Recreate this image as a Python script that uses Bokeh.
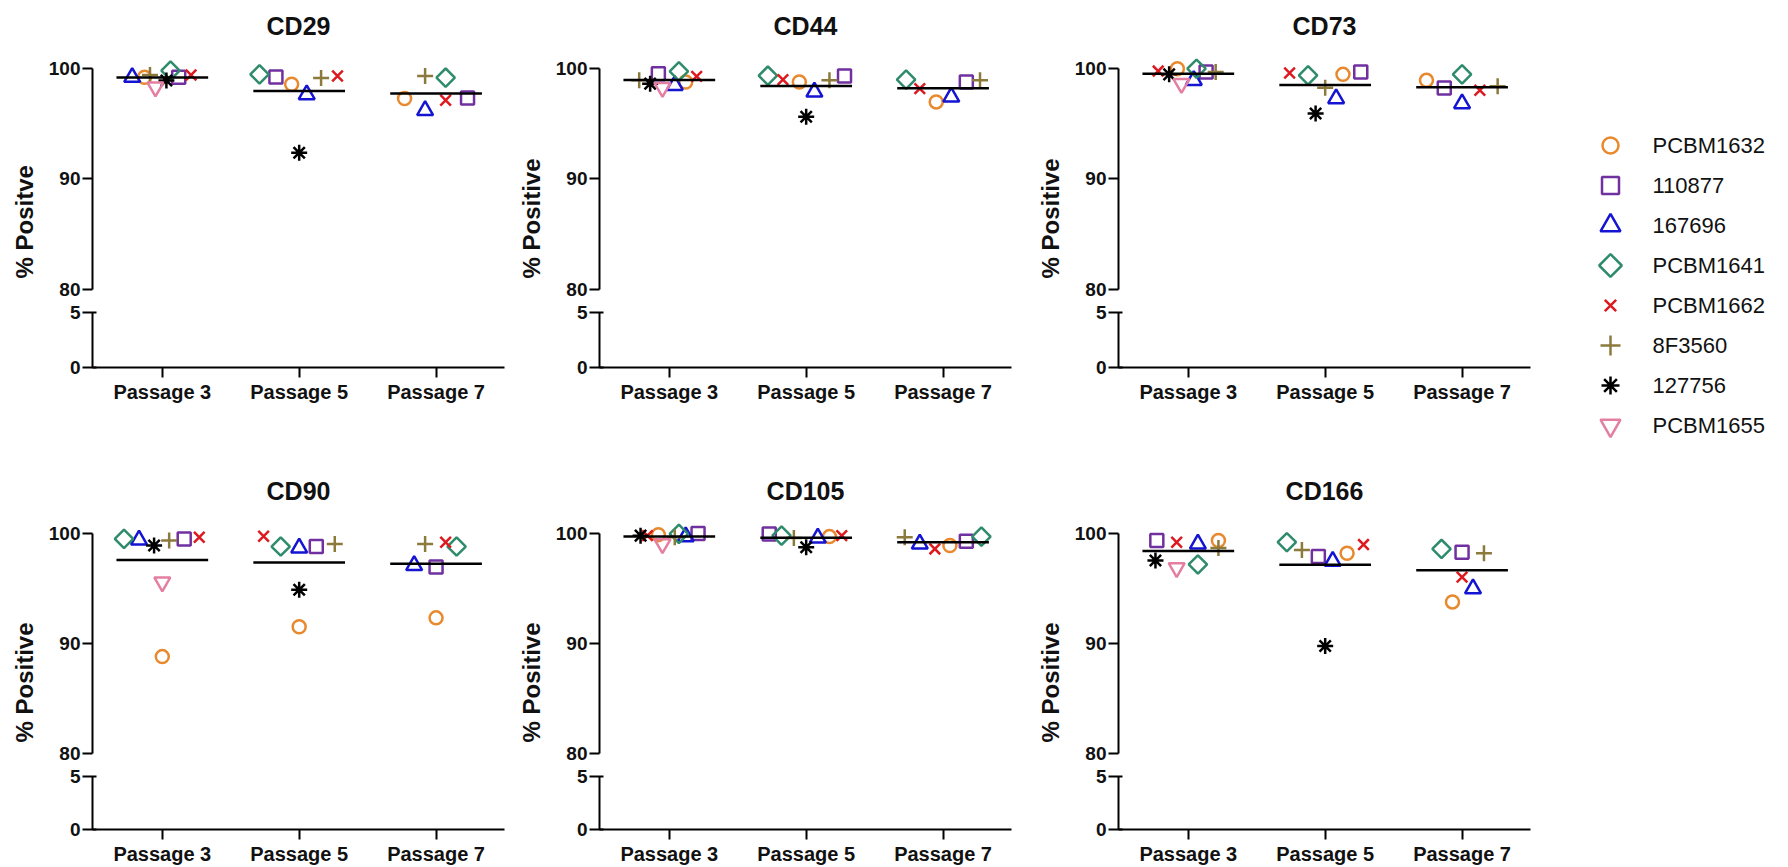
import math
from bokeh.plotting import figure
from bokeh.models import FixedTicker, Title, ColumnDataSource, Range1d
from bokeh.layouts import row, column
from bokeh.embed import file_html
from bokeh.resources import INLINE
from bokeh.core.properties import value

FONT = "Liberation Sans"

passages = ["Passage 3", "Passage 5", "Passage 7"]
donors = ["PCBM1632", "110877", "167696", "PCBM1641", "PCBM1662", "8F3560", "127756", "PCBM1655"]

# values per passage, in donor order (None = not measured)
CD29_P3 = [99.2, 99.2, 99.2, 99.8, 99.4, 99.4, 98.9, 98.3]
CD29_P5 = [98.56, 99.22, 97.63, 99.46, 99.31, 99.13, 92.37, None]
CD29_P7 = [97.27, 97.33, 96.2, 99.16, 97.12, 99.31, None, None]
CD44_P3 = [98.77, 99.52, 98.47, 99.73, 99.28, 98.92, 98.62, 98.26]
CD44_P5 = [98.77, 99.31, 97.87, 99.34, 98.98, 98.92, 95.62, None]
CD44_P7 = [96.97, 98.77, 97.42, 98.98, 98.17, 98.92, None, None]
CD73_P3 = [99.97, 99.67, 98.92, 99.97, 99.76, 99.67, 99.46, 98.62]
CD73_P5 = [99.46, 99.67, 97.27, 99.37, 99.58, 98.26, 95.92, None]
CD73_P7 = [98.92, 98.23, 96.82, 99.46, 98.02, 98.38, None, None]
CD90_P3 = [88.8, 99.49, 99.4, 99.49, 99.64, 99.34, 98.89, 95.57]
CD90_P5 = [91.51, 98.8, 98.67, 98.8, 99.73, 99.04, 94.88, None]
CD90_P7 = [92.32, 96.93, 97.08, 98.8, 99.19, 99.04, None, None]
CD105_P3 = [99.88, 99.98, 99.7, 99.95, 99.79, 99.64, 99.79, 99.04]
CD105_P5 = [99.7, 99.94, 99.58, 99.79, 99.79, 99.58, 98.73, None]
CD105_P7 = [98.89, 99.28, 99.04, 99.7, 98.58, 99.64, None, None]
CD166_P3 = [99.34, 99.34, 99.04, 97.17, 99.19, 98.67, 97.53, 96.87]
CD166_P5 = [98.19, 97.89, 97.47, 99.19, 98.98, 98.49, 89.76, None]
CD166_P7 = [93.77, 98.28, 94.97, 98.58, 96.02, 98.19, None, None]

# horizontal scatter (jitter) of each point, in category units
CD29_P3_dx = [-0.13, 0.12, -0.22, 0.06, 0.21, -0.09, 0.03, -0.05]
CD29_P5_dx = [-0.055, -0.17, 0.055, -0.29, 0.28, 0.16, 0.0, 0.0]
CD29_P7_dx = [-0.23, 0.23, -0.08, 0.07, 0.07, -0.08, 0.0, 0.0]
CD44_P3_dx = [0.12, -0.08, 0.04, 0.07, 0.2, -0.22, -0.14, -0.05]
CD44_P5_dx = [-0.05, 0.28, 0.06, -0.28, -0.17, 0.17, 0.0, 0.0]
CD44_P7_dx = [-0.05, 0.17, 0.06, -0.27, -0.17, 0.27, 0.0, 0.0]
CD73_P3_dx = [-0.08, 0.13, 0.04, 0.06, -0.22, 0.2, -0.14, -0.05]
CD73_P5_dx = [0.13, 0.26, 0.08, -0.125, -0.26, 0.0, -0.07, 0.0]
CD73_P7_dx = [-0.26, -0.13, 0.0, 0.0, 0.13, 0.26, 0.0, 0.0]
CD90_P3_dx = [0.0, 0.16, -0.17, -0.28, 0.27, 0.05, -0.06, 0.0]
CD90_P5_dx = [0.0, 0.125, 0.0, -0.135, -0.26, 0.26, 0.0, 0.0]
CD90_P7_dx = [0.0, 0.0, -0.16, 0.15, 0.07, -0.08, 0.0, 0.0]
CD105_P3_dx = [-0.08, 0.21, 0.12, 0.07, -0.16, 0.04, -0.21, -0.05]
CD105_P5_dx = [0.17, -0.27, 0.085, -0.18, 0.26, -0.09, 0.0, 0.0]
CD105_P7_dx = [0.05, 0.17, -0.17, 0.28, -0.06, -0.28, 0.0, 0.0]
CD166_P3_dx = [0.22, -0.23, 0.07, 0.07, -0.085, 0.22, -0.24, -0.085]
CD166_P5_dx = [0.16, -0.05, 0.055, -0.28, 0.28, -0.17, 0.0, 0.0]
CD166_P7_dx = [-0.07, 0.0, 0.08, -0.15, 0.0, 0.16, 0.0, 0.0]

panels = [
    ("CD29", "% Positve", [CD29_P3, CD29_P5, CD29_P7], [CD29_P3_dx, CD29_P5_dx, CD29_P7_dx]),
    ("CD44", "% Positive", [CD44_P3, CD44_P5, CD44_P7], [CD44_P3_dx, CD44_P5_dx, CD44_P7_dx]),
    ("CD73", "% Positive", [CD73_P3, CD73_P5, CD73_P7], [CD73_P3_dx, CD73_P5_dx, CD73_P7_dx]),
    ("CD90", "% Positive", [CD90_P3, CD90_P5, CD90_P7], [CD90_P3_dx, CD90_P5_dx, CD90_P7_dx]),
    ("CD105", "% Positive", [CD105_P3, CD105_P5, CD105_P7], [CD105_P3_dx, CD105_P5_dx, CD105_P7_dx]),
    ("CD166", "% Positive", [CD166_P3, CD166_P5, CD166_P7], [CD166_P3_dx, CD166_P5_dx, CD166_P7_dx]),
]

# styles
markers = ["circle", "square", "triangle", "square", "x", "cross", "asterisk", "inverted_triangle"]
angles = [0, 0, 0, 45, 0, 0, 0, 0]
sizes = [13, 13, 16, 13, 15, 16, 16, 16]
legend_sizes = [16, 17, 20, 16, 16, 20, 18, 20]
colors = ["#E8892E", "#7030A0", "#1414D2", "#2E8B6B", "#DD1A1F", "#8C7A3C", "#000000", "#E57FA2"]

FRAME_W = 418
TOP_H = 241
BOT_H = 55
LEFT = 86
RIGHTS = [3, 15, 30]
TOP_BORDERS = [48, 46]
BOTTOM_GAPS = [99, 36]


def style_axis(ax, size="19px"):
    ax.axis_line_width = 2
    ax.axis_line_color = "black"
    ax.major_tick_line_width = 2
    ax.major_tick_line_color = "black"
    ax.major_tick_out = 10
    ax.major_tick_in = 0
    ax.minor_tick_line_color = None
    ax.major_label_text_font = FONT
    ax.major_label_text_font_style = "bold"
    ax.major_label_text_font_size = size
    ax.major_label_text_color = "#111111"


def make_panel(idx, title, ylabel, vals, dxs):
    right = RIGHTS[idx % 3]
    r = idx // 3
    tb = TOP_BORDERS[r]
    xr = Range1d(-0.51, 2.50)
    top = figure(width=LEFT + FRAME_W + right, height=tb + TOP_H + 12,
                 x_range=xr, y_range=Range1d(80, 101.8),
                 output_backend="svg", toolbar_location=None,
                 x_axis_location=None, title=title,
                 min_border_left=LEFT, min_border_right=right,
                 min_border_top=tb, min_border_bottom=12)
    top.title.align = "center"
    top.title.text_font = FONT
    top.title.text_font_size = "25px"
    top.title.text_font_style = "bold"
    top.title.text_color = "#111111"
    top.title.standoff = 17
    top.outline_line_color = None
    top.grid.visible = False
    ya = top.yaxis[0]
    style_axis(ya)
    ya.ticker = FixedTicker(ticks=[80, 90, 100])
    ya.bounds = (80, 100)
    ya.major_label_standoff = 2

    for k in range(len(donors)):
        xs, ys = [], []
        for i in range(3):
            v = vals[i][k]
            if v is not None:
                xs.append(i + dxs[i][k])
                ys.append(v)
        src = ColumnDataSource(dict(x=xs, y=ys))
        top.scatter(x="x", y="y", source=src, marker=markers[k], size=sizes[k],
                    angle=angles[k], angle_units="deg", line_color=colors[k],
                    fill_color=None, line_width=2.5)

    mx0, mx1, my = [], [], []
    for i in range(3):
        present = [v for v in vals[i] if v is not None]
        m = sum(present) / len(present)
        mx0.append(i - 0.335)
        mx1.append(i + 0.335)
        my.append(m)
    top.segment(x0=mx0, x1=mx1, y0=my, y1=my, line_color="black", line_width=2.5)

    yl = Title(text=ylabel, align="left", offset=11, vertical_align="bottom", standoff=16,
               text_font=FONT, text_font_size="24px", text_font_style="bold",
               text_color="#111111")
    top.add_layout(yl, "left")

    bot = figure(width=LEFT + FRAME_W + right, height=11 + BOT_H + BOTTOM_GAPS[r],
                 x_range=xr, y_range=Range1d(0, 5),
                 output_backend="svg", toolbar_location=None,
                 min_border_left=LEFT, min_border_right=right,
                 min_border_top=11, min_border_bottom=BOTTOM_GAPS[r])
    bot.outline_line_color = None
    bot.grid.visible = False
    yb = bot.yaxis[0]
    style_axis(yb)
    yb.ticker = FixedTicker(ticks=[0, 5])
    yb.major_label_standoff = 2
    yb.major_tick_in = 4
    xb = bot.xaxis[0]
    style_axis(xb, "20px")
    xb.ticker = FixedTicker(ticks=[0, 1, 2])
    xb.major_label_overrides = {0: passages[0], 1: passages[1], 2: passages[2]}
    xb.major_label_standoff = 3
    return top, bot


cols = [[], [], []]
for idx, (title, ylabel, vals, dxs) in enumerate(panels):
    t, b = make_panel(idx, title, ylabel, vals, dxs)
    cols[idx % 3].extend([t, b])

# legend panel: one row per donor (row index = donor index), 40 px per row
LEG_W, LEG_H = 220, 867
leg = figure(width=LEG_W, height=LEG_H,
             x_range=Range1d(0, LEG_W),
             y_range=Range1d((LEG_H - 145) / 40.0, -145 / 40.0),
             output_backend="svg", toolbar_location=None,
             x_axis_location=None, y_axis_location=None,
             min_border_left=0, min_border_right=0, min_border_top=0, min_border_bottom=0)
leg.outline_line_color = None
leg.grid.visible = False
for k in range(len(donors)):
    leg.scatter(x=[50], y=[k], marker=markers[k], size=legend_sizes[k], angle=angles[k],
                angle_units="deg", line_color=colors[k], fill_color=None, line_width=2.5)
leg.text(x=[92] * len(donors), y=list(range(len(donors))), text=donors,
         text_font=value(FONT), text_font_size="22px", text_baseline="middle",
         text_align="left", text_color="#111111")

layout = row(column(*cols[0]), column(*cols[1]), column(*cols[2]), leg)

open("out.html", "w").write(file_html(layout, INLINE))
